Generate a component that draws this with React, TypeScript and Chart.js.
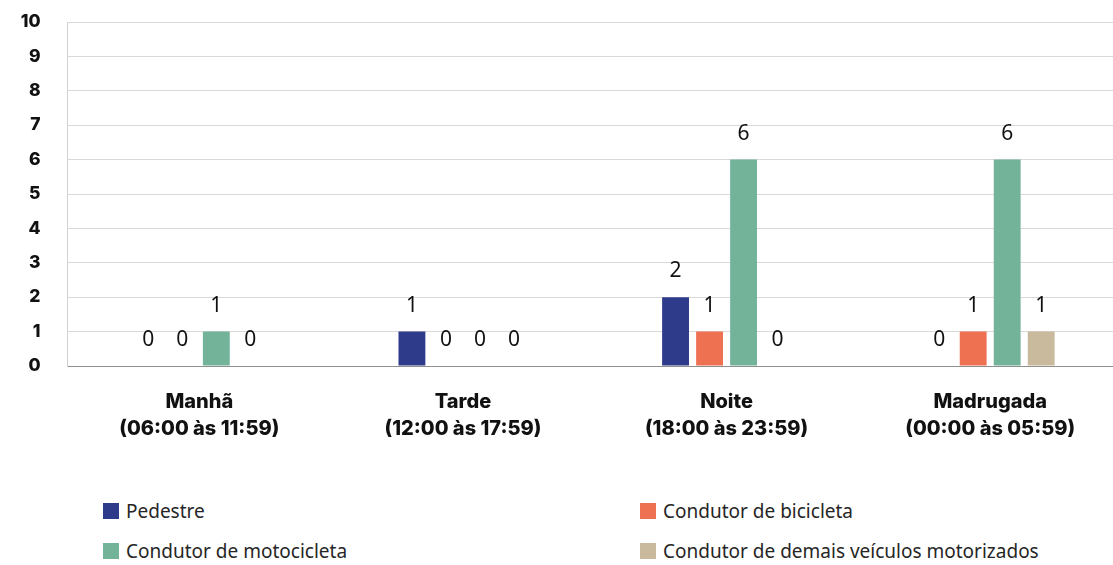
import React, { useEffect, useRef } from "react";
import { Chart, registerables } from "chart.js";

Chart.register(...registerables);

const categories: string[][] = [
  ["Manhã", "(06:00 às 11:59)"],
  ["Tarde", "(12:00 às 17:59)"],
  ["Noite", "(18:00 às 23:59)"],
  ["Madrugada", "(00:00 às 05:59)"],
];
const seriesNames = [
  "Pedestre",
  "Condutor de bicicleta",
  "Condutor de motocicleta",
  "Condutor de demais veículos motorizados",
];
const pedestre = [0, 1, 2, 0];
const bicicleta = [0, 0, 1, 1];
const motocicleta = [1, 0, 6, 6];
const demais = [0, 0, 0, 1];
const seriesColors = ["#2E3A8A", "#EE7152", "#72B39A", "#C9B99D"];
const yTicks = [0, 1, 2, 3, 4, 5, 6, 7, 8, 9, 10];

const CANVAS_W = 1122;
const CANVAS_H = 460;

const labelPlugin = {
  id: "valueLabels",
  afterDatasetsDraw(chart: any) {
    const ctx = chart.ctx;
    ctx.save();
    ctx.font = '400 21px "Noto Sans", "Open Sans", sans-serif';
    ctx.fillStyle = "#111";
    ctx.textAlign = "center";
    ctx.textBaseline = "middle";
    chart.data.datasets.forEach((ds: any, i: number) => {
      const meta = chart.getDatasetMeta(i);
      meta.data.forEach((bar: any, j: number) => {
        ctx.fillText(String(ds.data[j]), bar.x, bar.y - 26);
      });
    });
    ctx.restore();
  },
};

export default function App() {
  const ref = useRef<HTMLCanvasElement | null>(null);
  useEffect(() => {
    if (!ref.current) return;
    const data = [pedestre, bicicleta, motocicleta, demais];
    const chart = new Chart(ref.current, {
      type: "bar",
      data: {
        labels: categories,
        datasets: data.map((d, i) => ({
          label: seriesNames[i],
          data: d,
          backgroundColor: seriesColors[i],
          borderWidth: 0,
          barPercentage: 0.79,
          categoryPercentage: 0.516,
        })),
      },
      plugins: [labelPlugin],
      options: {
        animation: false,
        responsive: false,
        maintainAspectRatio: false,
        layout: { padding: { top: 22, left: 0, right: 0, bottom: 0 } },
        plugins: {
          legend: { display: false },
          tooltip: { enabled: false },
        },
        scales: {
          x: {
            grid: { display: false },
            border: { display: true, color: "#8f8f8f", width: 1 },
            ticks: {
              padding: 14,
              color: "#111",
              font: { family: "Inter, sans-serif", size: 20, weight: "800", lineHeight: 1.35 },
              maxRotation: 0,
            },
            afterFit: (scale: any) => {
              scale.height = CANVAS_H - 366;
            },
          },
          y: {
            min: 0,
            max: 10,
            afterBuildTicks: (scale: any) => {
              scale.ticks = yTicks.map((v) => ({ value: v }));
            },
            grid: { color: "#d9d9d9", lineWidth: 1, drawTicks: false },
            border: { display: true, color: "#d0d0d0" },
            ticks: {
              padding: 27,
              color: "#111",
              font: { family: "Inter, sans-serif", size: 17.5, weight: "800" },
            },
            afterFit: (scale: any) => {
              scale.width = 67.5;
              scale.paddingTop = 10;
              scale.paddingBottom = 10;
            },
          },
        },
      },
    });
    return () => chart.destroy();
  }, []);

  const legendItem = (i: number, left: number, top: number) => (
    <div
      key={i}
      style={{
        position: "absolute",
        left,
        top,
        display: "flex",
        alignItems: "center",
        fontFamily: '"Noto Sans", "Open Sans", sans-serif',
        fontSize: 19,
        color: "#262626",
        whiteSpace: "nowrap",
        height: 22,
      }}
    >
      <span
        style={{
          display: "inline-block",
          width: 16,
          height: 16,
          background: seriesColors[i],
          marginRight: 7,
        }}
      />
      <span>{seriesNames[i]}</span>
    </div>
  );

  return (
    <div
      style={{
        position: "fixed",
        left: 0,
        top: 0,
        width: 1113,
        height: 565,
        overflow: "hidden",
        background: "#fff",
      }}
    >
      <canvas
        ref={ref}
        width={CANVAS_W}
        height={CANVAS_H}
        style={{ position: "absolute", left: 0, top: 0, width: CANVAS_W, height: CANVAS_H }}
      />
      {legendItem(0, 103, 500)}
      {legendItem(1, 640, 500)}
      {legendItem(2, 103, 540)}
      {legendItem(3, 640, 540)}
    </div>
  );
}
